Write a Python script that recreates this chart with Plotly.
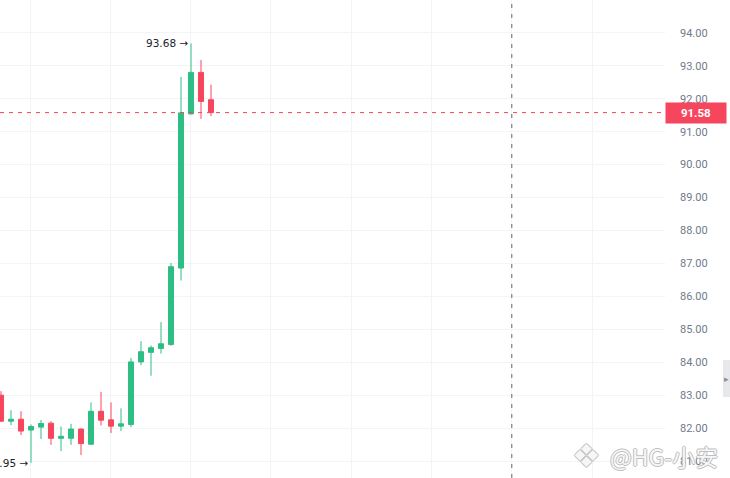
import plotly.graph_objects as go

# ---- data ----
idx = list(range(22))
opens  = [83.00, 82.21, 82.27, 81.94, 82.03, 82.15, 81.69, 81.69, 81.97, 81.51, 82.51,
          82.25, 82.06, 82.11, 84.01, 84.30, 84.42, 84.54, 86.86, 91.54, 92.80, 91.97]
highs  = [83.12, 82.54, 82.51, 82.11, 82.25, 82.21, 82.05, 82.13, 81.99, 82.78, 83.10,
          82.78, 82.60, 84.13, 84.64, 84.51, 85.22, 87.01, 92.66, 93.68, 93.18, 92.43]
lows   = [82.19, 82.09, 81.79, 80.95, 81.67, 81.49, 81.30, 81.49, 81.18, 81.50, 82.08,
          81.85, 81.91, 82.03, 83.91, 83.59, 84.26, 84.50, 86.48, 91.52, 91.39, 91.47]
closes = [82.21, 82.27, 81.91, 82.05, 82.14, 81.69, 81.75, 81.97, 81.53, 82.51, 82.24,
          82.06, 82.13, 84.01, 84.32, 84.44, 84.56, 86.90, 91.57, 92.80, 91.92, 91.58]

y_ticks = [81, 82, 83, 84, 85, 86, 87, 88, 89, 90, 91, 92, 93, 94]
y_tick_text = [f"{v:.2f}" for v in y_ticks]
x_grid = [2.9, 10.93, 18.96, 26.99, 35.02, 43.05, 51.08, 59.11]

high_val, high_idx = 93.68, 19
low_val, low_idx = 80.95, 3
last_price = closes[-1]
cross_x = 51.08

UP = "#2EBD85"
DOWN = "#F6465D"

fig = go.Figure()
fig.add_trace(go.Candlestick(
    x=idx, open=opens, high=highs, low=lows, close=closes,
    increasing=dict(line=dict(color=UP, width=1), fillcolor=UP),
    decreasing=dict(line=dict(color=DOWN, width=1), fillcolor=DOWN),
    whiskerwidth=0, hoverinfo="skip", showlegend=False,
))

# last price line (red dashed) and crosshair vertical (gray dashed)
fig.add_shape(type="line", xref="paper", x0=0, x1=1, yref="y", y0=last_price, y1=last_price,
              line=dict(color=DOWN, width=1, dash="4px,5px"))
fig.add_shape(type="line", xref="x", x0=cross_x, x1=cross_x, yref="paper", y0=0, y1=1,
              line=dict(color="#5E6673", width=1, dash="4px,6px"))

# right-edge collapse button
fig.add_shape(type="rect", xref="paper", yref="paper", x0=1.0872, x1=1.0985, y0=0.1695, y1=0.2469,
              line=dict(width=0), fillcolor="#E6E8EA", layer="above")

wm_shadow = "1px 0 #B8B8B8, -1px 0 #B8B8B8, 0 1px #B8B8B8, 0 -1px #B8B8B8"
annotations = [
    dict(xref="x", yref="y", x=high_idx, y=high_val, text=f"{high_val:.2f} →",
         xanchor="right", yanchor="middle", xshift=-1, showarrow=False,
         font=dict(family="DejaVu Sans", size=10.5, color="#1E2329")),
    dict(xref="x", yref="y", x=low_idx, y=low_val, text=f"{low_val:.2f} →",
         xanchor="right", yanchor="middle", xshift=-1, showarrow=False,
         font=dict(family="DejaVu Sans", size=10.5, color="#1E2329")),
    dict(xref="paper", yref="y", x=1, y=last_price, text=f"<b>{last_price:.2f}</b>",
         xanchor="left", yanchor="middle", showarrow=False, bgcolor=DOWN,
         width=58, height=18, borderpad=1, align="center",
         font=dict(family="Roboto", size=11.5, color="white")),
    dict(xref="paper", yref="paper", x=1.0928, y=0.208, text="▸", showarrow=False,
         xanchor="center", yanchor="middle", font=dict(size=9, color="#848E9C")),
    dict(xref="paper", yref="paper", x=0.907, y=0.047, text="❖", showarrow=False,
         xanchor="right", yanchor="middle",
         font=dict(family="DejaVu Sans", size=32, color="rgba(255,255,255,0.9)", shadow=wm_shadow)),
    dict(xref="paper", yref="paper", x=1.083, y=0.047, text="@HG-小安", showarrow=False,
         xanchor="right", yanchor="middle",
         font=dict(family="Noto Sans CJK SC", size=23, color="rgba(255,255,255,0.9)", shadow=wm_shadow)),
]

fig.update_layout(
    width=730, height=478,
    margin=dict(l=0, r=65, t=0, b=0),
    paper_bgcolor="white", plot_bgcolor="white",
    boxgap=0.28,
    annotations=annotations,
    xaxis=dict(range=[-0.1, 66.4], showticklabels=False, ticks="", zeroline=False,
               showgrid=True, gridcolor="#F3F4F5", gridwidth=1,
               tickmode="array", tickvals=x_grid, rangeslider=dict(visible=False),
               fixedrange=True, showline=False),
    yaxis=dict(side="right", range=[80.485, 94.998], tickmode="array",
               tickvals=y_ticks, ticktext=y_tick_text, ticks="", ticklabelstandoff=14,
               showgrid=True, gridcolor="#F3F4F5", gridwidth=1, zeroline=False,
               showline=False, fixedrange=True,
               tickfont=dict(family="Roboto", size=11, color="#707A8A")),
)

fig.write_html("out.html", config={"displayModeBar": False},
               post_script="document.body.style.margin='0px';")
